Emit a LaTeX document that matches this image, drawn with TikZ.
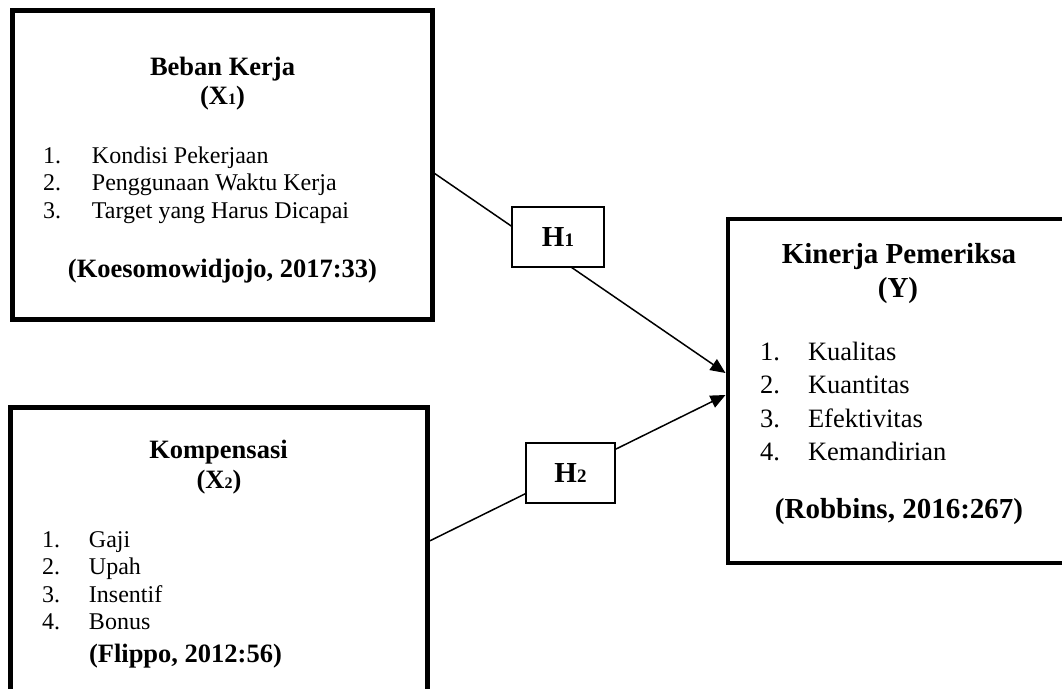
\documentclass[tikz,border=0pt]{standalone}
\usepackage{fontspec}
\setmainfont{Liberation Serif}
\usetikzlibrary{arrows.meta}
\newcommand{\sm}[1]{{\fontsize{16}{16}\selectfont #1}}
\begin{document}
\begin{tikzpicture}[x=1pt,y=-1pt,
  bigbox/.style={draw, line width=4.5pt, rectangle, inner sep=0pt, outer sep=0pt},
  hbox/.style={draw, fill=white, line width=1.3pt, inner sep=0pt, outer sep=0pt, minimum width=92pt, minimum height=60pt},
  txt/.style={inner sep=0pt, outer sep=0pt, anchor=base},
  ltxt/.style={inner sep=0pt, outer sep=0pt, anchor=base west},
  ttl/.style={font=\fontsize{26.5}{30}\selectfont\bfseries},
  ttlY/.style={font=\fontsize{29}{32}\selectfont\bfseries},
  itm/.style={font=\fontsize{24}{27}\selectfont},
  itmY/.style={font=\fontsize{26.5}{30}\selectfont},
  link/.style={line width=1.5pt, -{Triangle[length=15pt,width=13pt]}}]
\useasboundingbox (0,0) rectangle (1062,688);
\clip (0,0) rectangle (1062,688);
\fill[white] (0,0) rectangle (1062,688);
% boxes
\node[bigbox, minimum width=420pt, minimum height=309pt] (b1) at (222.5,165) {};
\node[bigbox, minimum width=417pt, minimum height=322.5pt] (b2) at (219,568.75) {};
\node[bigbox, minimum width=362pt, minimum height=344pt] (Y) at (909,391) {};
% connectors
\draw[link] ([yshift=-7pt]b1.east) -- ([xshift=-2.5pt,yshift=18pt]Y.west);
\draw[link] ([yshift=26.75pt]b2.east) -- ([xshift=-2.5pt,yshift=-4pt]Y.west);
\node[hbox] (h1) at (558,237) {\fontsize{29}{29}\selectfont\bfseries H{\fontsize{19}{19}\selectfont 1}};
\node[hbox, minimum width=89pt] (h2) at (570.5,473) {\fontsize{29}{29}\selectfont\bfseries H{\fontsize{19}{19}\selectfont 2}};
% box 1 text
\node[txt, ttl] (t1a) at (222.5,75) {Beban Kerja};
\node[txt, ttl] (t1b) at (222.5,104) {(X\sm{1})};
\node[ltxt, itm] (t1c) at (43,163) {\makebox[49pt][l]{1.}Kondisi Pekerjaan};
\node[ltxt, itm] (t1d) at (43,190.5) {\makebox[49pt][l]{2.}Penggunaan Waktu Kerja};
\node[ltxt, itm] (t1e) at (43,218) {\makebox[49pt][l]{3.}Target yang Harus Dicapai};
\node[txt, ttl] (t1f) at (222.5,277) {(Koesomowidjojo, 2017:33)};
% box 2 text
\node[txt, ttl] (t2a) at (218.5,458) {Kompensasi};
\node[txt, ttl] (t2b) at (219,488) {(X\sm{2})};
\node[ltxt, itm] (t2c) at (42,547) {\makebox[47pt][l]{1.}Gaji};
\node[ltxt, itm] (t2d) at (42,574.5) {\makebox[47pt][l]{2.}Upah};
\node[ltxt, itm] (t2e) at (42,602) {\makebox[47pt][l]{3.}Insentif};
\node[ltxt, itm] (t2f) at (42,629.5) {\makebox[47pt][l]{4.}Bonus};
\node[ltxt, ttl] (t2g) at (89,662) {(Flippo, 2012:56)};
% box Y text
\node[txt, ttlY] (t3a) at (899,263) {Kinerja Pemeriksa};
\node[txt, ttlY] (t3b) at (898,297) {(Y)};
\node[ltxt, itmY] (t3c) at (760,360) {\makebox[48pt][l]{1.}Kualitas};
\node[ltxt, itmY] (t3d) at (760,393) {\makebox[48pt][l]{2.}Kuantitas};
\node[ltxt, itmY] (t3e) at (760,427) {\makebox[48pt][l]{3.}Efektivitas};
\node[ltxt, itmY] (t3f) at (760,460) {\makebox[48pt][l]{4.}Kemandirian};
\node[txt, ttlY] (t3g) at (899,518) {(Robbins, 2016:267)};
\end{tikzpicture}
\end{document}
